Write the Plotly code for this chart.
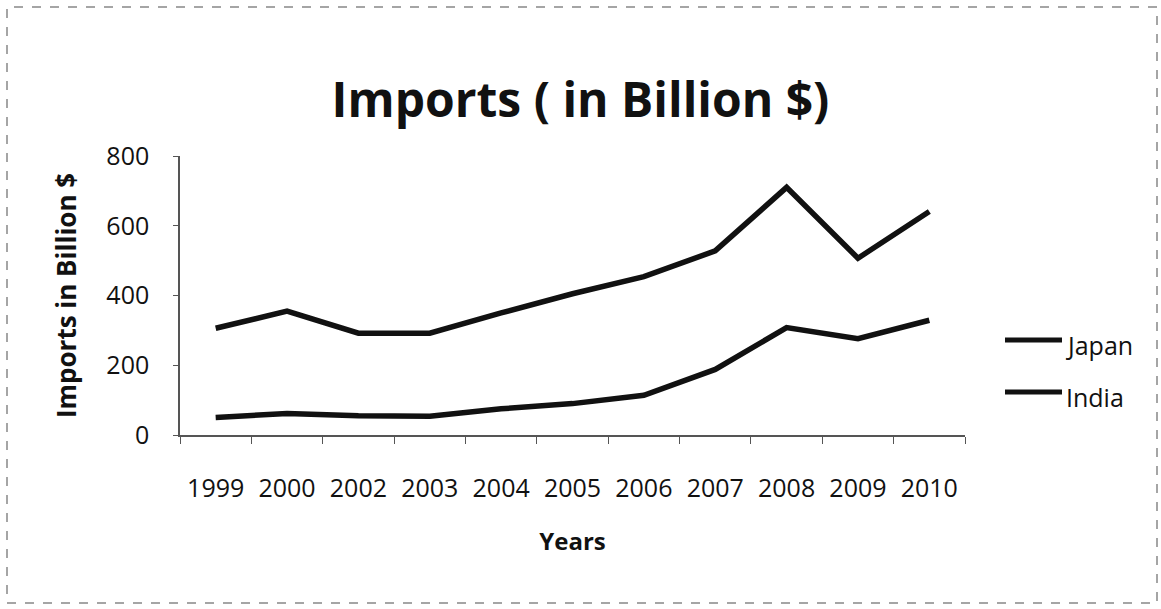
import plotly.graph_objects as go

# Import values in billion US dollars
years = ["1999", "2000", "2002", "2003", "2004", "2005", "2006", "2007", "2008", "2009", "2010"]
japan = [306, 355, 292, 292, 350, 405, 454, 528, 710, 507, 641]
india = [50, 62, 55, 54, 75, 90, 114, 188, 308, 276, 329]
series_names = ["Japan", "India"]
y_ticks = [0, 200, 400, 600, 800]

W, H = 1161, 609
M_L, M_R, M_T, M_B = 180, 196, 156, 174
FONT = "Open Sans"
INK = "#111111"
AXIS = "#555555"

fig = go.Figure()
for name, vals in zip(series_names, [japan, india]):
    fig.add_trace(go.Scatter(
        x=years, y=vals, name=name, mode="lines",
        line=dict(color=INK, width=5.5),
        showlegend=False,
    ))

# hand-drawn legend to the right of the plot area
plot_w = W - M_L - M_R
plot_h = H - M_T - M_B
def px_to_paper_x(px):
    return (px - M_L) / plot_w
def px_to_paper_y(py):
    return (H - M_B - py) / plot_h

shapes = []
annotations = []
for i, name in enumerate(series_names):
    ly = 340 + 52 * i
    shapes.append(dict(type="line", xref="paper", yref="paper",
                       x0=px_to_paper_x(1005), x1=px_to_paper_x(1062),
                       y0=px_to_paper_y(ly), y1=px_to_paper_y(ly),
                       line=dict(color=INK, width=5)))
    annotations.append(dict(text=name, xref="paper", yref="paper",
                            x=px_to_paper_x(1064), y=px_to_paper_y(ly + 5),
                            xanchor="left", yanchor="middle", showarrow=False,
                            font=dict(family=FONT, size=25, color=INK)))

# dashed frame around the whole chart
shapes.append(dict(type="rect", xref="paper", yref="paper",
                   x0=px_to_paper_x(7), x1=px_to_paper_x(1157),
                   y0=px_to_paper_y(603), y1=px_to_paper_y(7),
                   line=dict(color="#888888", width=1.5, dash="dash")))

fig.update_layout(
    width=W, height=H,
    margin=dict(l=M_L, r=M_R, t=M_T, b=M_B),
    paper_bgcolor="white", plot_bgcolor="white",
    title=dict(text="<b>Imports ( in Billion $)</b>", x=0.5, xref="container",
               y=1 - 100 / H, yanchor="middle",
               font=dict(family=FONT, size=48, color=INK)),
    shapes=shapes, annotations=annotations,
    xaxis=dict(
        type="category", categoryorder="array", categoryarray=years,
        range=[-0.5, len(years) - 0.5],
        showline=True, linecolor=AXIS, linewidth=1.5,
        ticks="outside", ticklen=7, tickcolor=AXIS, tickson="boundaries",
        ticklabelstandoff=30,
        showgrid=False, zeroline=False,
        tickfont=dict(family=FONT, size=25, color=INK),
        title=dict(text="<b>Years</b>", standoff=30,
                   font=dict(family=FONT, size=24, color=INK)),
    ),
    yaxis=dict(
        range=[0, 800], tickvals=y_ticks,
        showline=True, linecolor=AXIS, linewidth=1.5,
        ticks="outside", ticklen=5, tickcolor=AXIS,
        ticklabelstandoff=19,
        showgrid=False, zeroline=False,
        tickfont=dict(family=FONT, size=25, color=INK),
        title=dict(text="<b>Imports in Billion $</b>", standoff=22,
                   font=dict(family=FONT, size=26, color=INK)),
    ),
)

fig.write_html("out.html")
